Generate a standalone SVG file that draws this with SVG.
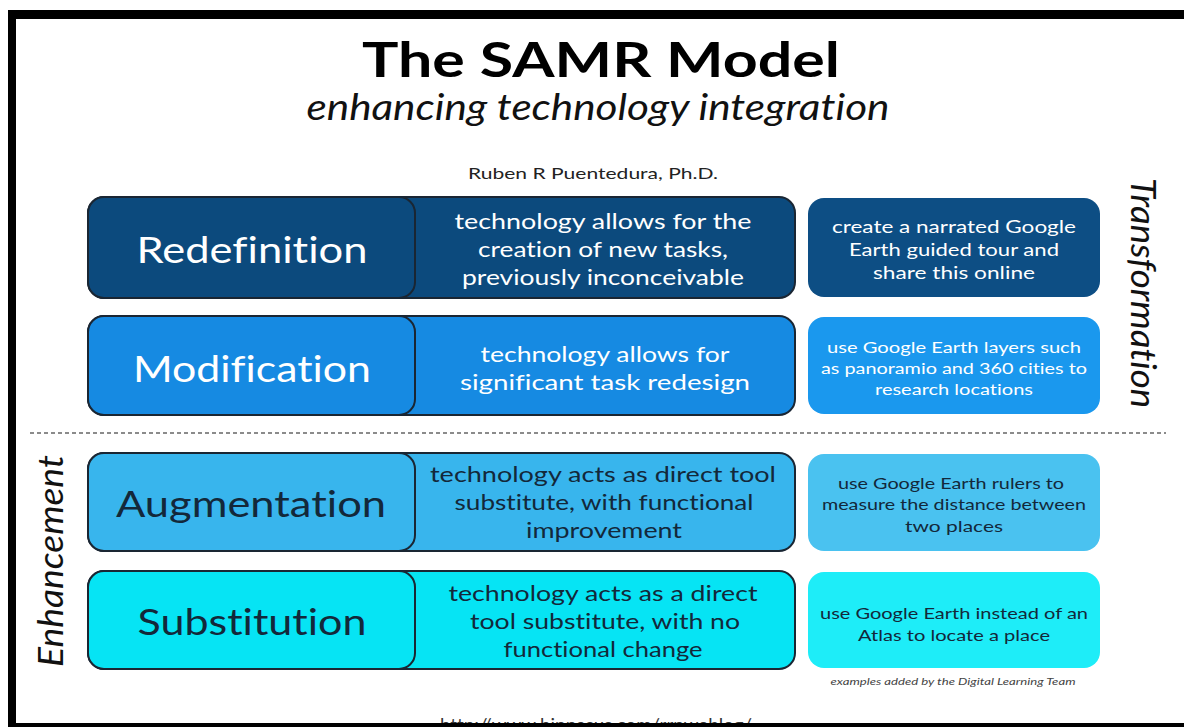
<svg xmlns="http://www.w3.org/2000/svg" width="1184" height="727" viewBox="0 0 1184 727">
  <style>
    .sans { font-family: Lato, "Open Sans", "Liberation Sans", sans-serif; font-variant-ligatures: none; }
    text { text-anchor: middle; }
    .title { font-size: 47px; font-weight: 700; fill: #000; }
    .subtitle { font-size: 37px; font-style: italic; fill: #111; }
    .author { font-size: 16px; fill: #222; }
    .level { font-size: 36px; }
    .desc { font-size: 21px; }
    .ex { font-size: 16px; }
    .ex-lg { font-size: 18px; }
    .light { fill: #ffffff; }
    .dark { fill: #13283a; }
    .side { font-size: 35px; font-style: italic; fill: #111; }
    .outline { stroke: #1a2633; stroke-width: 2; }
    .note { font-size: 10px; font-style: italic; fill: #444; }
  </style>

  <rect x="0" y="0" width="1184" height="727" fill="#ffffff"/>

  <!-- heading -->
  <g id="heading" class="sans">
    <text class="title" x="601" y="77" textLength="478" lengthAdjust="spacingAndGlyphs">The SAMR Model</text>
    <text class="subtitle" x="598" y="120" textLength="583" lengthAdjust="spacingAndGlyphs">enhancing technology integration</text>
    <text class="author" x="593" y="179" textLength="250" lengthAdjust="spacingAndGlyphs">Ruben R Puentedura, Ph.D.</text>
  </g>

  <!-- Redefinition -->
  <g id="redefinition" class="sans">
    <rect x="88" y="197" width="707" height="101" rx="16" fill="#0c4a7d" class="outline"/>
    <rect x="88" y="197" width="327" height="101" rx="16" fill="#0c4a7d" class="outline"/>
    <text class="level light" x="252" y="263" textLength="231" lengthAdjust="spacingAndGlyphs">Redefinition</text>
    <text class="desc light" x="603" y="229" textLength="297" lengthAdjust="spacingAndGlyphs">technology allows for the</text>
    <text class="desc light" x="603" y="257" textLength="250" lengthAdjust="spacingAndGlyphs">creation of new tasks,</text>
    <text class="desc light" x="603" y="285" textLength="282" lengthAdjust="spacingAndGlyphs">previously inconceivable</text>
  </g>
  <g id="redefinition-example" class="sans">
    <rect x="808" y="198" width="292" height="99" rx="16" fill="#0d4e84"/>
    <text class="ex-lg light" x="954" y="233" textLength="244" lengthAdjust="spacingAndGlyphs">create a narrated Google</text>
    <text class="ex-lg light" x="954" y="256" textLength="210" lengthAdjust="spacingAndGlyphs">Earth guided tour and</text>
    <text class="ex-lg light" x="954" y="279" textLength="162" lengthAdjust="spacingAndGlyphs">share this online</text>
  </g>

  <!-- Modification -->
  <g id="modification" class="sans">
    <rect x="88" y="316" width="707" height="99" rx="16" fill="#168ae2" class="outline"/>
    <rect x="88" y="316" width="327" height="99" rx="16" fill="#168ae2" class="outline"/>
    <text class="level light" x="252" y="382" textLength="238" lengthAdjust="spacingAndGlyphs">Modification</text>
    <text class="desc light" x="605" y="362" textLength="249" lengthAdjust="spacingAndGlyphs">technology allows for</text>
    <text class="desc light" x="605" y="390" textLength="290" lengthAdjust="spacingAndGlyphs">significant task redesign</text>
  </g>
  <g id="modification-example" class="sans">
    <rect x="808" y="317" width="292" height="97" rx="16" fill="#1a98ee"/>
    <text class="ex light" x="954" y="353" textLength="254" lengthAdjust="spacingAndGlyphs">use Google Earth layers such</text>
    <text class="ex light" x="954" y="374" textLength="266" lengthAdjust="spacingAndGlyphs">as panoramio and 360 cities to</text>
    <text class="ex light" x="954" y="395" textLength="158" lengthAdjust="spacingAndGlyphs">research locations</text>
  </g>

  <!-- boundary between transformation and enhancement -->
  <g id="connectors">
    <line x1="30" y1="433" x2="1166" y2="433" stroke="#666" stroke-width="1.5" stroke-dasharray="4 3"/>
  </g>

  <!-- Augmentation -->
  <g id="augmentation" class="sans">
    <rect x="88" y="453" width="707" height="98" rx="16" fill="#38b5ed" class="outline"/>
    <rect x="88" y="453" width="327" height="98" rx="16" fill="#38b5ed" class="outline"/>
    <text class="level dark" x="251" y="517" textLength="270" lengthAdjust="spacingAndGlyphs">Augmentation</text>
    <text class="desc dark" x="603" y="482" textLength="346" lengthAdjust="spacingAndGlyphs">technology acts as direct tool</text>
    <text class="desc dark" x="604" y="510" textLength="299" lengthAdjust="spacingAndGlyphs">substitute, with functional</text>
    <text class="desc dark" x="604" y="538" textLength="156" lengthAdjust="spacingAndGlyphs">improvement</text>
  </g>
  <g id="augmentation-example" class="sans">
    <rect x="808" y="454" width="292" height="97" rx="16" fill="#4ac2f0"/>
    <text class="ex dark" x="951" y="489" textLength="226" lengthAdjust="spacingAndGlyphs">use Google Earth rulers to</text>
    <text class="ex dark" x="954" y="510" textLength="264" lengthAdjust="spacingAndGlyphs">measure the distance between</text>
    <text class="ex dark" x="954" y="532" textLength="98" lengthAdjust="spacingAndGlyphs">two places</text>
  </g>

  <!-- Substitution -->
  <g id="substitution" class="sans">
    <rect x="88" y="571" width="707" height="98" rx="16" fill="#06e4f4" class="outline"/>
    <rect x="88" y="571" width="327" height="98" rx="16" fill="#06e4f4" class="outline"/>
    <text class="level dark" x="252" y="635" textLength="229" lengthAdjust="spacingAndGlyphs">Substitution</text>
    <text class="desc dark" x="603" y="601" textLength="309" lengthAdjust="spacingAndGlyphs">technology acts as a direct</text>
    <text class="desc dark" x="605" y="629" textLength="270" lengthAdjust="spacingAndGlyphs">tool substitute, with no</text>
    <text class="desc dark" x="603" y="657" textLength="199" lengthAdjust="spacingAndGlyphs">functional change</text>
  </g>
  <g id="substitution-example" class="sans">
    <rect x="808" y="572" width="292" height="96" rx="16" fill="#1eedf8"/>
    <text class="ex dark" x="954" y="619" textLength="268" lengthAdjust="spacingAndGlyphs">use Google Earth instead of an</text>
    <text class="ex dark" x="954" y="641" textLength="192" lengthAdjust="spacingAndGlyphs">Atlas to locate a place</text>
    <text class="note" x="953" y="685" textLength="245" lengthAdjust="spacingAndGlyphs">examples added by the Digital Learning Team</text>
  </g>

  <!-- side labels -->
  <g id="transformation-label" class="sans">
    <text class="side" transform="translate(1131 293) rotate(90)" textLength="230" lengthAdjust="spacingAndGlyphs">Transformation</text>
  </g>
  <g id="enhancement-label" class="sans">
    <text class="side" transform="translate(63 561) rotate(-90)" textLength="212" lengthAdjust="spacingAndGlyphs">Enhancement</text>
  </g>

  <!-- source line, partly under the frame -->
  <g id="source" class="sans">
    <text x="596" y="731" font-size="17" fill="#333" textLength="312" lengthAdjust="spacingAndGlyphs">http://www.hippasus.com/rrpweblog/</text>
  </g>

  <!-- frame -->
  <g id="frame" fill="#000">
    <rect x="8" y="10" width="1176" height="9"/>
    <rect x="8" y="10" width="8" height="717"/>
    <rect x="8" y="723" width="1176" height="4"/>
  </g>
</svg>
